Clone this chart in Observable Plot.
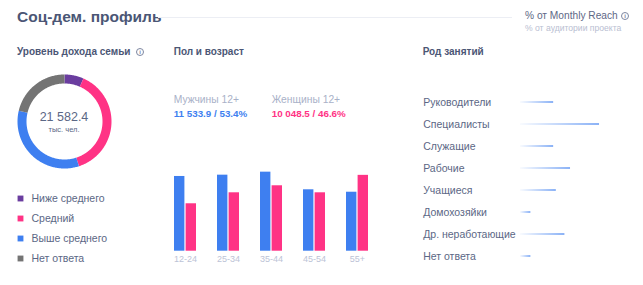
<!DOCTYPE html>
<html><head><meta charset="utf-8">
<script src="https://cdn.jsdelivr.net/npm/d3@7"></script>
<script src="https://cdn.jsdelivr.net/npm/@observablehq/plot@0.6"></script>
<style>
html,body{margin:0;padding:0;background:#fff;}
#root{position:relative;width:643px;height:285px;overflow:hidden;font-family:"Liberation Sans",Arial,sans-serif;}
.t{position:absolute;white-space:nowrap;transform:translateY(-50%);line-height:1.2;}
.ico{position:absolute;box-sizing:border-box;width:8px;height:8px;border:1px solid #7d86a0;border-radius:50%;font-size:6px;line-height:6px;text-align:center;color:#7d86a0;font-weight:bold;transform:translate(-50%,-50%);}
#root svg{position:absolute;left:0;top:0;background:transparent;}
</style></head>
<body><div id="root"></div>
<script>
// ---- data ----
const incomeLabels = ["Ниже среднего", "Средний", "Выше среднего", "Нет ответа"];
const incomeShares = [6.6, 38.4, 33.7, 21.3];
const incomeColors = ["#6a3d9f", "#ff3385", "#3e7ff0", "#747474"];
const incomeTotal = "21 582.4";
const incomeUnit = "тыс. чел.";

const ageGroups = ["12-24", "25-34", "35-44", "45-54", "55+"];
const menValues = [2458, 2501, 2600, 2020, 1940];
const womenValues = [1560, 1921, 2152, 1921, 2495];
const menSummary = "11 533.9 / 53.4%";
const womenSummary = "10 048.5 / 46.6%";

const occupations = ["Руководители", "Специалисты", "Служащие", "Рабочие", "Учащиеся", "Домохозяйки", "Др. неработающие", "Нет ответа"];
const occShares = [11.2, 26.7, 11.2, 16.9, 12.1, 3.5, 15.0, 3.5];

const BLUE = "#3e7ff0", PINK = "#ff3385", FONT = "'Liberation Sans', Arial, sans-serif";
const root = document.getElementById("root");

function txt(s, x, y, css) {
  const d = document.createElement("div");
  d.className = "t"; d.textContent = s;
  d.style.left = x + "px"; d.style.top = y + "px";
  d.style.cssText += css; root.appendChild(d); return d;
}
function ico(x, y) {
  const d = document.createElement("div");
  d.className = "ico"; d.textContent = "i";
  d.style.left = x + "px"; d.style.top = y + "px"; root.appendChild(d);
}
function add(svg) { svg.style.background = "transparent"; svg.style.position = "absolute"; svg.style.left = "0"; svg.style.top = "0"; svg.style.maxWidth = "none"; root.appendChild(svg); }

// header
txt("Соц-дем. профиль", 17, 17, "font-size:15.5px;font-weight:bold;color:#4b5675;");
const hl = document.createElement("div");
hl.style.cssText = "position:absolute;left:158px;top:16.5px;width:354px;height:1.5px;background:#eceef4;";
root.appendChild(hl);
txt("% от Monthly Reach", 525, 16, "font-size:10.2px;color:#5e6886;");
ico(625, 15.5);
txt("% от аудитории проекта", 525, 27.5, "font-size:8.6px;color:#b9c0d2;");

// section headers
txt("Уровень дохода семьи", 17, 51.7, "font-size:10px;font-weight:bold;color:#4b5675;");
ico(140, 51.7);
txt("Пол и возраст", 173.7, 51.7, "font-size:10px;font-weight:bold;color:#4b5675;");
txt("Род занятий", 422.7, 51.7, "font-size:10px;font-weight:bold;color:#4b5675;");

// sex summary
txt("Мужчины 12+", 173.7, 100.3, "font-size:10.3px;color:#a9b1c8;");
txt(menSummary, 173.7, 113.7, "font-size:9.8px;font-weight:bold;color:" + BLUE + ";");
txt("Женщины 12+", 271.7, 100.3, "font-size:10.3px;color:#a9b1c8;");
txt(womenSummary, 271.7, 113.7, "font-size:9.8px;font-weight:bold;color:" + PINK + ";");

// ---- donut ----
const arcPts = [];
let acc = 0;
incomeShares.forEach((v, i) => {
  const a0 = acc / 100 * 2 * Math.PI, a1 = (acc + v) / 100 * 2 * Math.PI;
  const n = Math.max(2, Math.ceil(v * 3.6));
  for (let k = 0; k <= n; k++) {
    const a = a0 + (a1 - a0) * k / n;
    arcPts.push({name: incomeLabels[i], x: Math.sin(a), y: Math.cos(a)});
  }
  acc += v;
});
const cx = 64, cy = 121, rm = 42.5;
add(Plot.plot({
  width: 643, height: 285, margin: 0,
  style: {background: "transparent", fontFamily: FONT},
  x: {domain: [-1, 1], range: [cx - rm, cx + rm], axis: null},
  y: {domain: [-1, 1], range: [cy + rm, cy - rm], axis: null},
  color: {domain: incomeLabels, range: incomeColors},
  marks: [
    Plot.line(arcPts, {x: "x", y: "y", z: "name", stroke: "name", strokeWidth: 9, strokeLinecap: "butt", strokeLinejoin: "round"})
  ]
}));
txt(incomeTotal, cx, 117, "font-size:12.5px;color:#5b6785;transform:translate(-50%,-50%);");
txt(incomeUnit, cx, 128.7, "font-size:7.5px;color:#5b6785;transform:translate(-50%,-50%);");

// legend
add(Plot.plot({
  width: 643, height: 285, marginLeft: 31, marginTop: 0, marginBottom: 0,
  style: {background: "transparent", fontFamily: FONT},
  x: {axis: null},
  y: {type: "point", domain: incomeLabels, range: [196.7, 258.3], padding: 0, axis: null},
  color: {domain: incomeLabels, range: incomeColors},
  marks: [
    Plot.dot(incomeLabels, {y: d => d, fill: d => d, symbol: "square", r: 3.3, frameAnchor: "left", dx: -11}),
    Plot.axisY({anchor: "left", tickSize: 0, tickPadding: 0, textAnchor: "start", fontSize: 10.5, color: "#5b6785", label: null})
  ]
}));

// ---- bars ----
const barData = ageGroups.map((a, i) => ({age: a, men: menValues[i], women: womenValues[i]}));
add(Plot.plot({
  width: 643, height: 285, marginBottom: 34.3, marginTop: 0,
  style: {background: "transparent", fontFamily: FONT},
  x: {domain: ageGroups, range: [152.2, 390.8], padding: 0.485},
  y: {domain: [0, 3000], range: [250.7, 159.5], axis: null},
  marks: [
    Plot.barY(barData, {x: "age", y: "men", fill: BLUE, insetRight: 11.6}),
    Plot.barY(barData, {x: "age", y: "women", fill: PINK, insetLeft: 11.6}),
    Plot.axisX({anchor: "bottom", tickSize: 0, tickPadding: 4, fontSize: 9, color: "#bcc3d6", label: null})
  ]
}));

// ---- occupations ----
add(Plot.plot({
  width: 643, height: 285, marginLeft: 422.7, marginTop: 0, marginBottom: 0,
  style: {background: "transparent", fontFamily: FONT},
  x: {domain: [0, 30], range: [520, 608.8], axis: null},
  y: {type: "band", domain: occupations, range: [89.8, 268.9], padding: 0, axis: null},
  marks: [
    () => {
      const defs = d3.create("svg:defs");
      const g = defs.append("linearGradient").attr("id", "occGrad").attr("x1", "0").attr("x2", "1").attr("y1", "0").attr("y2", "0");
      g.append("stop").attr("offset", "0%").attr("stop-color", BLUE).attr("stop-opacity", 0.05);
      g.append("stop").attr("offset", "100%").attr("stop-color", BLUE).attr("stop-opacity", 1);
      return defs.node();
    },
    Plot.barX(occupations, {x: (d, i) => occShares[i], y: d => d, fill: "url(#occGrad)", insetTop: 10.4, insetBottom: 10.4}),
    Plot.axisY({anchor: "left", tickSize: 0, tickPadding: 0, textAnchor: "start", fontSize: 10.5, color: "#5b6785", label: null})
  ]
}));
</script></body></html>
